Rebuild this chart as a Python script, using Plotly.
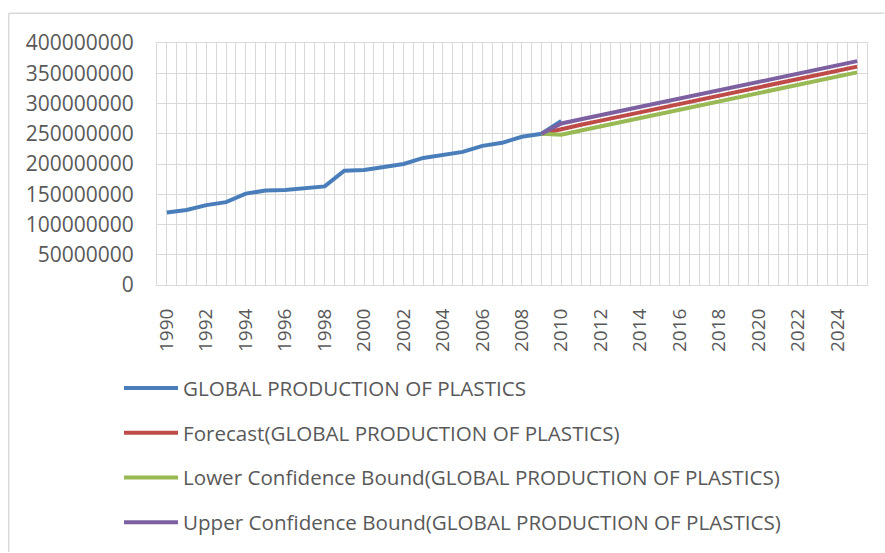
import plotly.graph_objects as go

years = list(range(1990, 2011))
production = [120e6, 124e6, 132e6, 137e6, 151e6, 156e6, 157e6, 160e6, 163e6, 189e6,
              190e6, 195e6, 200e6, 210e6, 215e6, 220e6, 230e6, 235e6, 245e6, 250e6, 271e6]

fc_years = list(range(2009, 2026))
forecast = [250e6, 258.0e6, 264.9e6, 271.7e6, 278.6e6, 285.5e6, 292.4e6, 299.2e6, 306.1e6,
            313.0e6, 319.8e6, 326.7e6, 333.6e6, 340.4e6, 347.3e6, 354.2e6, 361.0e6]
lower = [250e6, 248.5e6, 255.4e6, 262.2e6, 269.1e6, 276.0e6, 282.9e6, 289.7e6, 296.6e6,
         303.5e6, 310.3e6, 317.2e6, 324.1e6, 330.9e6, 337.8e6, 344.7e6, 351.5e6]
upper = [250e6, 267.0e6, 273.9e6, 280.7e6, 287.6e6, 294.5e6, 301.4e6, 308.2e6, 315.1e6,
         322.0e6, 328.8e6, 335.7e6, 342.6e6, 349.4e6, 356.3e6, 363.2e6, 370.0e6]

names = ["GLOBAL PRODUCTION OF PLASTICS",
         "Forecast(GLOBAL PRODUCTION OF PLASTICS)",
         "Lower Confidence Bound(GLOBAL PRODUCTION OF PLASTICS)",
         "Upper Confidence Bound(GLOBAL PRODUCTION OF PLASTICS)"]
colors = ["#4A7EBB", "#BE4B48", "#98B954", "#7D60A0"]

FONT = "Open Sans"
TXT = "#595959"
GRID = "#D9D9D9"

fig = go.Figure()
series = [(years, production), (fc_years, forecast), (fc_years, lower), (fc_years, upper)]
for i, ((xs, ys), nm, c) in enumerate(zip(series, names, colors)):
    fig.add_trace(go.Scatter(x=xs, y=ys, mode="lines", name=nm, legendgroup=f"g{i}",
                             line=dict(color=c, width=4)))

L, R, T, B = 156.5, 17.5, 42.7, 267.7
W, H = 885, 553
pw = W - L - R
ph = H - T - B

def px_x(p):
    return (p - L) / pw

def px_y(p):
    return (H - B - p) / ph

fig.update_layout(
    width=W, height=H,
    margin=dict(l=L, r=R, t=T, b=B, pad=0, autoexpand=False),
    paper_bgcolor="white", plot_bgcolor="white",
    font=dict(family=FONT, size=19, color=TXT),
    showlegend=True,
    legend=dict(xref="container", yref="container", x=119 / W, y=(H - 368) / H,
                xanchor="left", yanchor="top",
                orientation="v", tracegroupgap=15,
                font=dict(family=FONT, size=20.6, color=TXT),
                bgcolor="rgba(0,0,0,0)", itemwidth=54),
    xaxis=dict(range=[1989.5, 2025.5], tickmode="linear", tick0=1990, dtick=2,
               tickangle=-90, showgrid=True, gridcolor=GRID, gridwidth=1,
               minor=dict(tick0=1989.5, dtick=0.5, showgrid=True, gridcolor=GRID, gridwidth=1),
               showline=True, mirror=True, linecolor=GRID, linewidth=1,
               ticks="", ticklabelstandoff=15, zeroline=False, automargin=False,
               tickfont=dict(family=FONT, size=19, color=TXT)),
    yaxis=dict(range=[0, 400e6], tickmode="linear", tick0=0, dtick=50e6, tickformat="d",
               showgrid=True, gridcolor=GRID, gridwidth=1,
               showline=True, mirror=True, linecolor=GRID, linewidth=1,
               ticks="", ticklabelstandoff=18, zeroline=False, automargin=False,
               tickfont=dict(family=FONT, size=21, color=TXT)),
    shapes=[
        dict(type="line", xref="paper", yref="paper", x0=px_x(8), x1=px_x(885),
             y0=px_y(13), y1=px_y(13), line=dict(color=GRID, width=1.5)),
        dict(type="line", xref="paper", yref="paper", x0=px_x(8), x1=px_x(8),
             y0=px_y(13), y1=px_y(553), line=dict(color=GRID, width=1.5)),
    ],
)

fig.write_html("out.html")
